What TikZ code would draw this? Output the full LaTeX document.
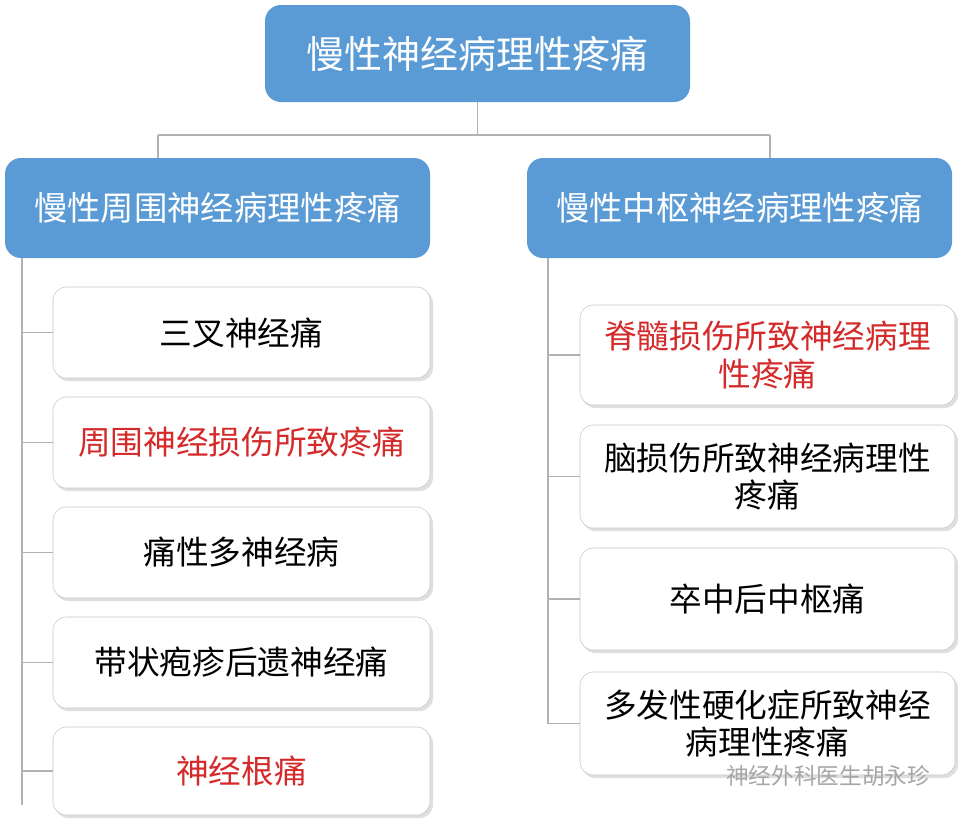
\documentclass[tikz,border=0pt]{standalone}
\usepackage{fontspec}
\newfontfamily\cjk{Noto Sans CJK SC}
\begin{document}
\begin{tikzpicture}[x=0.75pt,y=-0.75pt,
 head/.style={draw=none,fill=hb,rounded corners=12pt,text=white,font=\cjk\fontsize{25}{30}\selectfont,inner sep=0pt},
 kid/.style={draw=gray!45,fill=white,rounded corners=10pt,font=\cjk\fontsize{24.5}{28}\selectfont,inner sep=0pt,align=center},
 ln/.style={draw=gray!60,line width=0.8pt}]
\definecolor{hb}{HTML}{5B9BD5}
\definecolor{tred}{HTML}{D42A2A}
\useasboundingbox (0,0) rectangle (960,818);
\fill[white] (0,0) rectangle (960,818);
\node[head,minimum width=425*0.75pt,minimum height=97*0.75pt,font=\cjk\fontsize{28.5}{32}\selectfont] (top) at (477.5,53.5) {慢性神经病理性疼痛};
\node[head,minimum width=425*0.75pt,minimum height=100*0.75pt] (L) at (217.5,208) {慢性周围神经病理性疼痛};
\node[head,minimum width=425*0.75pt,minimum height=100*0.75pt] (R) at (739.5,208) {慢性中枢神经病理性疼痛};
\coordinate (m) at (477.5,135);
\coordinate (ml) at (158,135);
\coordinate (mr) at (770,135);
\draw[ln] (top.south) -- (m) (ml) -- (mr);
\draw[ln] (ml) -- (ml|-L.north);
\draw[ln] (mr) -- (mr|-R.north);
% left children
\foreach \n/\y/\h/\t/\s in {l1/332.5/91/三叉神经痛/black, l2/442.5/91/周围神经损伤所致疼痛/tred, l3/552.5/91/痛性多神经病/black, l4/662.5/91/带状疱疹后遗神经痛/black, l5/771/88/神经根痛/tred}{
 \fill[gray!25,rounded corners=10pt] (55,\y-\h/2+3) rectangle (433,\y+\h/2+3);
 \node[kid,text=\s,minimum width=377*0.75pt,minimum height=\h*0.75pt] (\n) at (241.5,\y) {\t};
}
\coordinate (lt) at (22,258);
\coordinate (lb) at (22,805);
\draw[ln] (lt) -- (lb);
\foreach \n in {l1,l2,l3,l4,l5}{\draw[ln] (lt|-\n.west) -- (\n.west);}
% right children
\foreach \n/\y/\h/\t/\s in {r1/355/100/{脊髓损伤所致神经病理\\性疼痛}/tred, r2/476.5/103/{脑损伤所致神经病理性\\疼痛}/black, r3/599/102/卒中后中枢痛/black, r4/723.5/103/{多发性硬化症所致神经\\病理性疼痛}/black}{
 \fill[gray!25,rounded corners=10pt] (582,\y-\h/2+3) rectangle (958,\y+\h/2+3);
 \node[kid,text=\s,minimum width=375*0.75pt,minimum height=\h*0.75pt] (\n) at (767.5,\y) {\t};
}
\coordinate (rt) at (548,258);
\coordinate (rb) at (548,723.5);
\draw[ln] (rt) -- (rb);
\foreach \n in {r1,r2,r3,r4}{\draw[ln] (rt|-\n.west) -- (\n.west);}
\node[font=\cjk\fontsize{17}{19}\selectfont,text=gray!70,anchor=east] (wm) at (935,776) {神经外科医生胡永珍};
\end{tikzpicture}
\end{document}
